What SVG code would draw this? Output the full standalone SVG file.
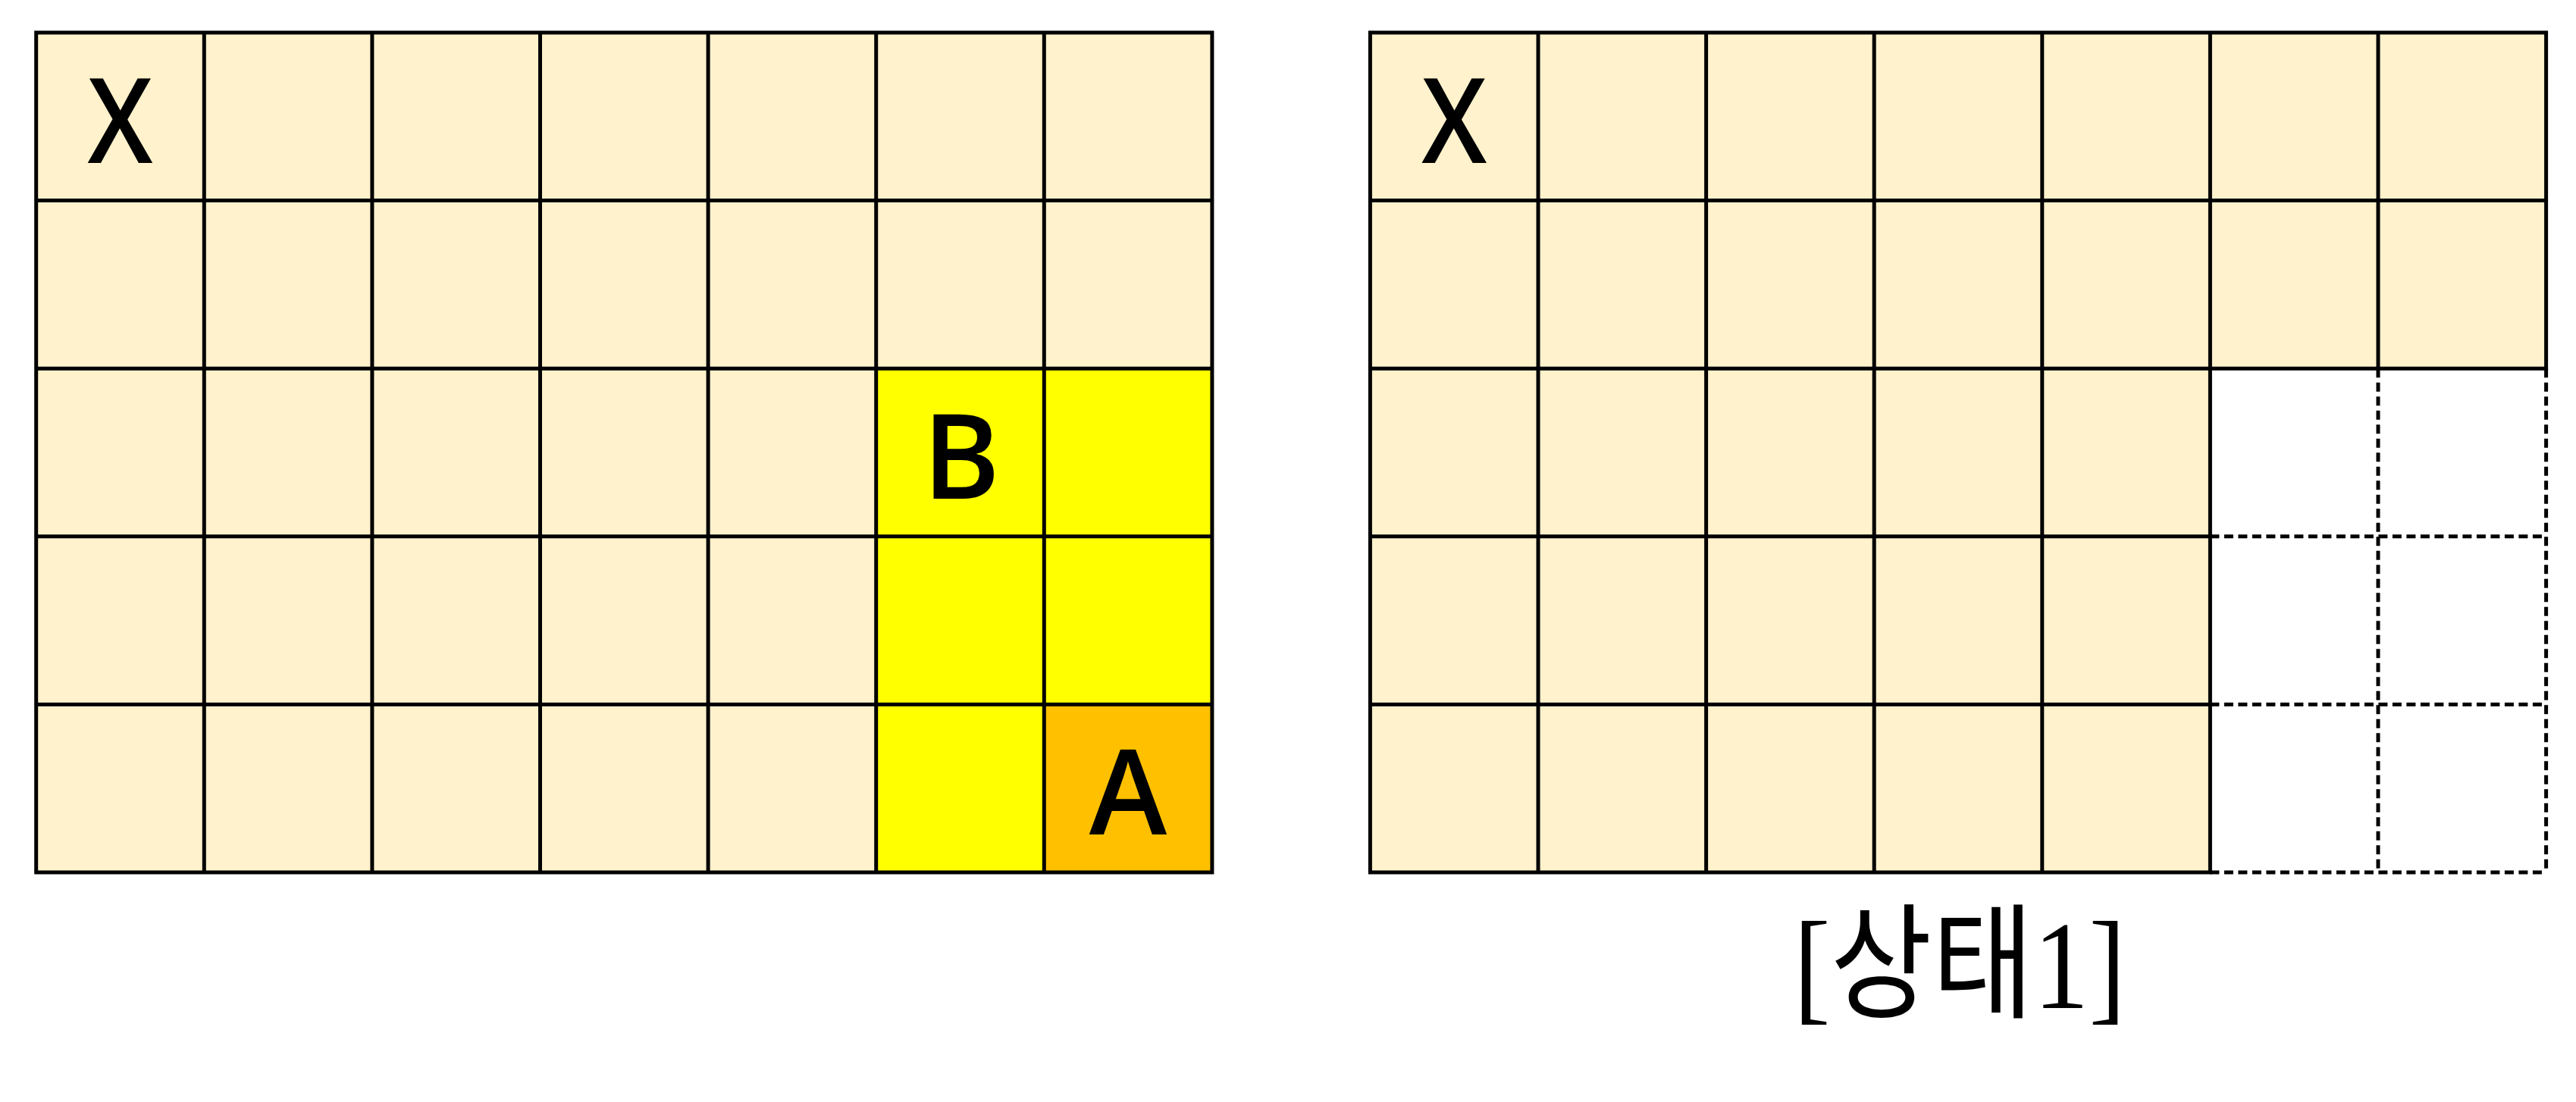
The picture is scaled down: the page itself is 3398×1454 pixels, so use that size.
<svg xmlns="http://www.w3.org/2000/svg" width="3398" height="1454" viewBox="0 0 3398 1454">
<style>
.bg{fill:#FFF2CC}
.yl{fill:#FFFF00}
.or{fill:#FFC000}
.ln{stroke:#000;stroke-width:5;fill:none;stroke-linecap:square}
.dash{stroke:#000;stroke-width:5;fill:none;stroke-dasharray:12 6.5}
.lbl{font-family:"Open Sans","Noto Sans",sans-serif;font-size:155px;font-weight:600;fill:#000;text-anchor:middle}
.cap{font-family:"Liberation Serif","Noto Sans CJK KR",serif;font-size:165px;fill:#000;text-anchor:middle}
</style>
<rect width="3398" height="1454" fill="#fff"/>
<g id="left-grid">
  <rect class="bg" x="47.7" y="43" width="1551.2" height="1108"/>
  <rect class="yl" x="1155.7" y="486.2" width="443.2" height="664.8"/>
  <rect class="or" x="1377.3" y="929.4" width="221.6" height="221.6"/>
  <path class="ln" d="M47.7 43H1598.9M47.7 264.6H1598.9M47.7 486.2H1598.9M47.7 707.8H1598.9M47.7 929.4H1598.9M47.7 1151H1598.9M47.7 43V1151M269.3 43V1151M490.9 43V1151M712.5 43V1151M934.1 43V1151M1155.7 43V1151M1377.3 43V1151M1598.9 43V1151"/>
  <g id="cell-left-X"><text class="lbl" x="158.5" y="215" textLength="86" lengthAdjust="spacingAndGlyphs">X</text></g>
  <g id="cell-left-B"><text class="lbl" x="1268" y="658">B</text></g>
  <g id="cell-left-A"><text class="lbl" x="1488.1" y="1101">A</text></g>
</g>
<g id="right-grid">
  <rect class="bg" x="1807.4" y="43" width="1551.2" height="443.2"/>
  <rect class="bg" x="1807.4" y="486.2" width="1108" height="664.8"/>
  <path class="ln" d="M1807.4 43H3358.6M1807.4 264.6H3358.6M1807.4 486.2H3358.6M1807.4 707.8H2915.4M1807.4 929.4H2915.4M1807.4 1151H2915.4M1807.4 43V1151M2029 43V1151M2250.6 43V1151M2472.2 43V1151M2693.8 43V1151M2915.4 43V1151M3137 43V486.2M3358.6 43V486.2"/>
  <path class="dash" d="M2915.4 707.8H3358.6M2915.4 929.4H3358.6M2915.4 1151H3358.6M3137 486.2V1151M3358.6 486.2V1151"/>
  <g id="cell-right-X"><text class="lbl" x="1918.2" y="215" textLength="86" lengthAdjust="spacingAndGlyphs">X</text></g>
</g>
<g id="caption"><text class="cap" x="2585" y="1330" textLength="438" lengthAdjust="spacingAndGlyphs">[상태1]</text></g>
<g id="connectors"></g>
</svg>
